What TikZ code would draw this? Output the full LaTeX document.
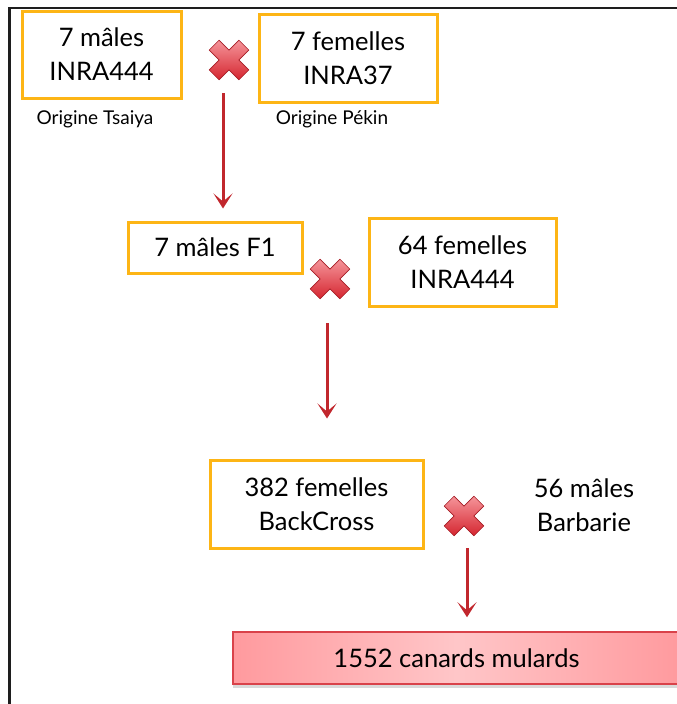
\documentclass[tikz,border=0pt]{standalone}
\usepackage{fontspec}
\setmainfont{Lato}
\usetikzlibrary{arrows.meta, positioning, shadows, calc}
\definecolor{frameline}{HTML}{1E1E1E}
\definecolor{gold}{HTML}{FDB515}
\definecolor{crossred}{HTML}{EC2A35}
\definecolor{arrowred}{HTML}{C1272D}
\definecolor{mulardedge}{HTML}{D9424A}
\definecolor{mulardlight}{HTML}{FFC6C8}
\definecolor{mularddark}{HTML}{FF9A9E}
\tikzset{
  strain/.style ={draw=gold, line width=3pt, fill=white, align=center,
                  font=\fontsize{25.5}{34}\selectfont, inner sep=0pt},
  plain/.style  ={align=center, font=\fontsize{25.5}{34}\selectfont, inner sep=0pt},
  origin/.style ={font=\fontsize{19}{22}\selectfont, inner sep=0pt},
  mulard/.style ={draw=mulardedge, line width=1.5pt, left color=mularddark,
                  right color=mularddark, middle color=mulardlight,
                  font=\fontsize{25.5}{30}\selectfont, inner sep=0pt,
                  drop shadow={shadow xshift=0pt, shadow yshift=-4pt, opacity=0.3}},
  flow/.style   ={-{Stealth[length=15pt,width=19pt,inset=8pt]}, line width=3pt, draw=arrowred},
  crossmark/.pic={
    \path[draw=crossred!70!black, line width=0.6pt, top color=crossred!50!white,
          bottom color=crossred!90!black, rotate=45]
      (7,7) -- (21,7) -- (21,-7) -- (7,-7) -- (7,-21) -- (-7,-21) -- (-7,-7)
      -- (-21,-7) -- (-21,7) -- (-7,7) -- (-7,21) -- (7,21) -- cycle;
  }
}

\begin{document}
\begin{tikzpicture}[x=1pt, y=-1pt]
  \useasboundingbox (0,0) rectangle (677,704);
  \clip (0,0) rectangle (677,704);

  % frame
  \draw[frameline, line width=2.5pt] (9.5,704) -- (9.5,8) -- (677,8);

  % parents
  \node[strain, minimum width=159pt, minimum height=87pt] (m1) at (101.5,54.5) {7 mâles\\INRA444};
  \node[strain, minimum width=178pt, minimum height=88pt] (f1) at (348,58) {7 femelles\\INRA37};
  \node[origin, below=11pt of m1, xshift=-6.5pt] (o1) {Origine Tsaiya};
  \node[origin, below=7pt of f1, xshift=-16pt] (o2) {Origine Pékin};
  \coordinate (x1) at (229,60);
  \pic at (x1) {crossmark};

  % F1 x INRA444
  \node[strain, minimum width=174pt, minimum height=51pt] (m2) at (215,247.5) {7 mâles F1};
  \node[strain, minimum width=187pt, minimum height=88pt] (f2) at (462.5,262) {64 femelles\\INRA444};
  \coordinate (x2) at (330,279);
  \pic at (x2) {crossmark};

  % backcross x Barbarie
  \node[strain, minimum width=213pt, minimum height=88pt] (f3) at (316.5,504) {382 femelles\\BackCross};
  \node[plain] (m3) at (584,505) {56 mâles\\Barbarie};
  \coordinate (x3) at (464,516);
  \pic at (x3) {crossmark};

  \node[mulard, minimum width=447pt, minimum height=52pt] (mul) at (456.5,658) {1552 canards mulards};

  \draw[flow] ($(x1)+(-6pt,-33pt)$) -- ($(x1 |- m2.north)+(-6pt,12pt)$);
  \draw[flow] ($(x2)+(-3pt,-44pt)$) -- ($(x2 |- f3.north)+(-3pt,40pt)$);
  \draw[flow] ($(x3)+(3pt,-32pt)$)  -- ($(x3 |- mul.north)+(3pt,14pt)$);
\end{tikzpicture}
\end{document}
